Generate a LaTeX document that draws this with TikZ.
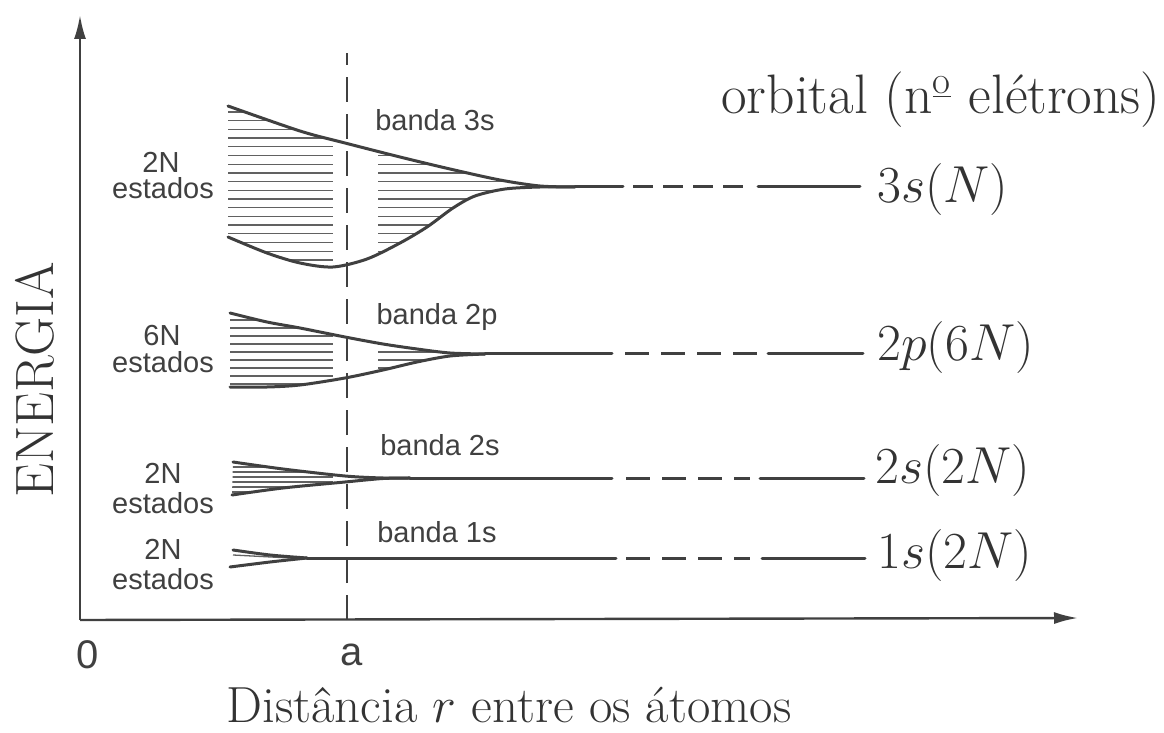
\documentclass[tikz,border=0pt]{standalone}
\usepackage{fix-cm}
\usepackage{fontspec}
\newfontfamily\labfont{Liberation Sans}
\usetikzlibrary{arrows.meta}
\begin{document}
\begin{tikzpicture}[x=0.5pt,y=-0.5pt,
  curve/.style={line width=1.5pt, draw=black!75, line join=round, line cap=round},
  axisline/.style={line width=1.2pt, draw=black!75},
  hatch/.style={line width=0.65pt, draw=black!62},
  vdash/.style={line width=1.1pt, draw=black!75, dash pattern=on 12.5pt off 6pt},
  lvldash/.style={line width=1.5pt, draw=black!75, dash pattern=on 12pt off 6pt},
  lvldashb/.style={line width=1.5pt, draw=black!75, dash pattern=on 10pt off 5pt},
  lab/.style={font=\labfont\fontsize{14.5}{14.5}\selectfont, text=black!75, inner sep=0pt},
  axlab/.style={font=\labfont\fontsize{20}{20}\selectfont, text=black!75, inner sep=0pt},
  orb/.style={font=\fontsize{26}{30}\selectfont, text=black!80, inner sep=0pt, anchor=west},
  big/.style={font=\fontsize{27.8}{32}\selectfont, text=black!80, inner sep=0pt},
  captext/.style={font=\fontsize{25.4}{30}\selectfont, text=black!80, inner sep=0pt},
  entext/.style={font=\fontsize{27}{30}\selectfont, text=black!80, inner sep=0pt, rotate=90}]
\useasboundingbox (0,0) rectangle (1164,733);

% axes
\coordinate (O) at (80,620);
\coordinate (ytip) at (80,15);
\coordinate (xtip) at (1078,618);
\draw[axisline, -{Latex[length=12pt,width=6pt]}] (O) -- (ytip);
\draw[axisline, -{Latex[length=12pt,width=6pt]}] (O) -- (xtip);

% dashed vertical line at a
\coordinate (abot) at (347,620);
\coordinate (atop) at (347,53);
\draw[vdash] (abot) -- (atop);

% ---------- band 3s ----------
\begin{scope}
\clip plot[smooth] coordinates {(228,106) (300,131) (345,143) (400,157) (450,169) (500,180) (540,186) (575,187)}
  -- plot[smooth] coordinates {(575,187) (540,187) (505,189) (475,196) (453,208) (427,227) (400,243) (367,259) (333,267) (300,263) (267,253) (228,237)} -- cycle;
\foreach \yy in {112,120.7,...,266} {
  \draw[hatch] (228,\yy) -- (333,\yy);
  \draw[hatch] (378,\yy) -- (580,\yy);
}
\end{scope}
\draw[curve] plot[smooth] coordinates {(228,106) (300,131) (345,143) (400,157) (450,169) (500,180) (540,186) (575,187)};
\draw[curve] plot[smooth] coordinates {(228,237) (267,253) (300,263) (333,267) (367,259) (400,243) (427,227) (453,208) (475,196) (505,189) (540,187) (575,187)};
\draw[curve] (575,187) -- (623,187);
\draw[lvldashb] (633,187) -- (745,187);
\draw[curve] (758,187) -- (860,187);

% ---------- band 2p ----------
\begin{scope}
\clip plot[smooth] coordinates {(230,313) (267,322) (300,328) (345,337) (383,344) (417,349) (450,353) (485,354)}
  -- plot[smooth] coordinates {(485,354) (450,356) (417,362) (383,370) (345,378) (300,385) (267,387) (230,387)} -- cycle;
\foreach \yy in {320,328,...,386} {
  \draw[hatch] (230,\yy) -- (333,\yy);
  \draw[hatch] (378,\yy) -- (490,\yy);
}
\end{scope}
\draw[curve] plot[smooth] coordinates {(230,313) (267,322) (300,328) (345,337) (383,344) (417,349) (450,353) (485,354)};
\draw[curve] plot[smooth] coordinates {(230,387) (267,387) (300,385) (345,378) (383,370) (417,362) (450,356) (485,354)};
\draw[curve] (485,354) -- (612,354);
\draw[lvldash] (625,354) -- (757,354);
\draw[curve] (768,354) -- (863,354);

% ---------- band 2s ----------
\begin{scope}
\clip plot[smooth] coordinates {(233,462) (283,469) (345,476) (383,478) (410,478)}
  -- plot[smooth] coordinates {(410,478) (383,478.5) (345,482) (283,488) (232,495)} -- cycle;
\foreach \yy in {467,472,...,493} {
  \draw[hatch] (230,\yy) -- (333,\yy);
}
\end{scope}
\draw[curve] plot[smooth] coordinates {(233,462) (283,469) (345,476) (383,478) (410,478)};
\draw[curve] plot[smooth] coordinates {(232,495) (283,488) (345,482) (383,478.5) (410,478)};
\draw[curve] (410,478) -- (612,478);
\draw[lvldash] (626,478) -- (750,478);
\draw[curve] (760,478) -- (864,478);

% ---------- band 1s ----------
\draw[hatch] (233,555) -- (290,558);
\draw[curve] plot[smooth] coordinates {(233,550) (270,555) (307,558)};
\draw[curve] plot[smooth] coordinates {(230,567) (270,562) (307,558)};
\draw[curve] (307,558) -- (616,558);
\draw[lvldash] (626,558) -- (750,558);
\draw[curve] (762,558) -- (865,558);

% ---------- labels ----------
\node[lab] (n3a) at (161,162) {2N};
\node[lab] (n3b) at (163,188) {estados};
\node[lab] (n2pa) at (162,336) {6N};
\node[lab] (n2pb) at (163,362) {estados};
\node[lab] (n2sa) at (163,473) {2N};
\node[lab] (n2sb) at (163,503) {estados};
\node[lab] (n1sa) at (163,549) {2N};
\node[lab] (n1sb) at (163,579) {estados};

\node[lab] (b3s) at (435,120) {banda 3s};
\node[lab] (b2p) at (437,317) {banda 2p};
\node[lab] (b2s) at (440,445) {banda 2s};
\node[lab] (b1s) at (437,532) {banda 1s};

\node[big] (hdr) at (941,100) {orbital (n\textsuperscript{\underline{o}} elétrons)};
\node[orb] (o3s) at (877,190) {$3s(N)$};
\node[orb] (o2p) at (877,348) {$2p(6N)$};
\node[orb] (o2s) at (875,471) {$2s(2N)$};
\node[orb] (o1s) at (877,556) {$1s(2N)$};

\node[axlab] (zero) at (88,655) {0};
\node[axlab] (alab) at (352,655) {a};
\node[captext, anchor=base] (capn) at (509,722) {Distância $r$ entre os átomos};
\node[entext] (en) at (35,380) {ENERGIA};
\end{tikzpicture}
\end{document}
